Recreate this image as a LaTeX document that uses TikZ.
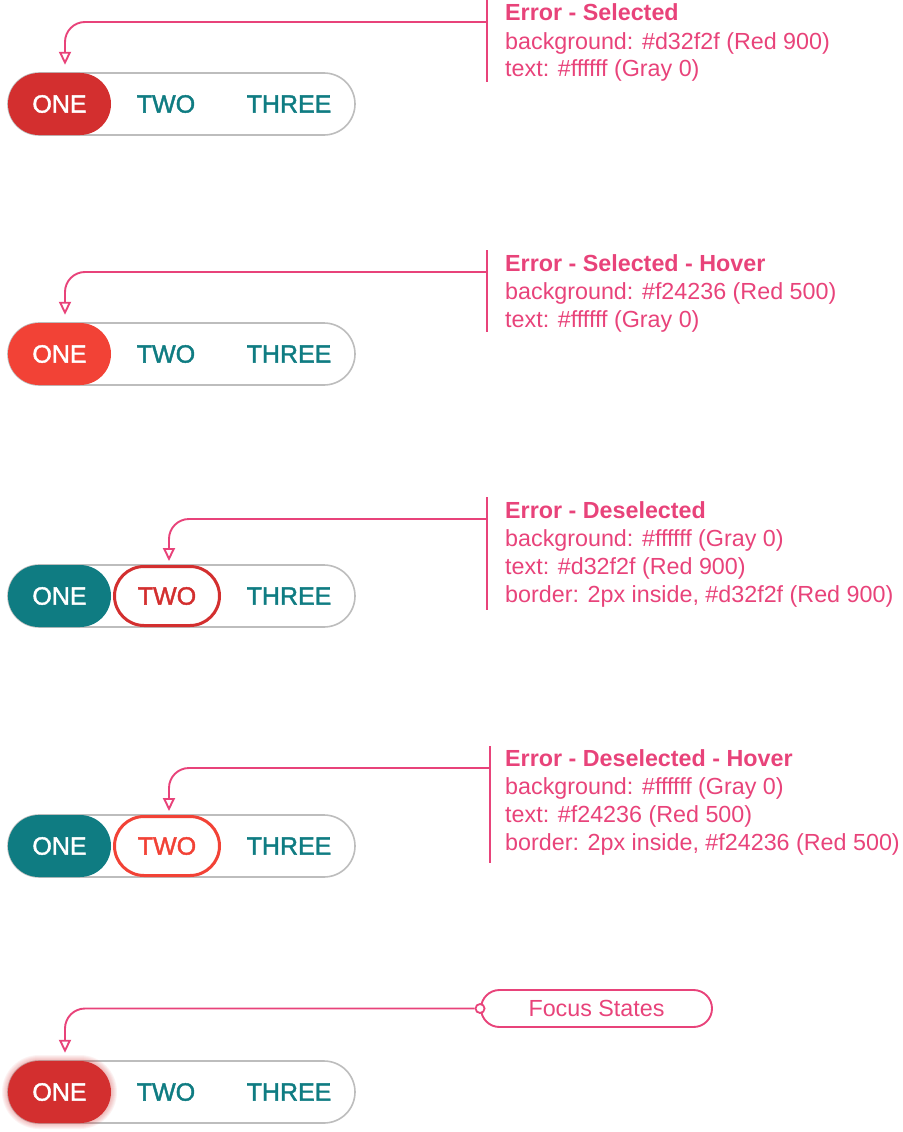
\documentclass[tikz,border=0pt]{standalone}
\usepackage{fontspec}
\setmainfont{Liberation Sans}
\newfontfamily\medfont[FakeBold=1.6]{Liberation Sans}
\usetikzlibrary{arrows.meta,calc}
\definecolor{pinkc}{HTML}{E8437A}
\definecolor{redA}{HTML}{D32F2F}
\definecolor{redB}{HTML}{F24236}
\definecolor{tealc}{HTML}{0F7C82}
\definecolor{grayb}{HTML}{BDBDBD}
\begin{document}
\begin{tikzpicture}[x=1pt,y=-1pt,
  toggle/.style={draw=grayb, line width=1.6pt, fill=white, rounded corners=31pt,
    minimum width=347pt, minimum height=62pt, inner sep=0pt},
  pill/.style={rounded corners=31pt, minimum width=103pt, minimum height=62pt,
    inner sep=0pt, text=white, font=\medfont\fontsize{25}{30}\selectfont},
  outpill/.style={rounded corners=29.5pt, minimum width=105pt, minimum height=59pt,
    inner sep=0pt, fill=white, line width=3pt, font=\medfont\fontsize{25}{30}\selectfont},
  lbl/.style={text=tealc, font=\medfont\fontsize{25}{30}\selectfont, inner sep=0pt},
  info/.style={text=pinkc, font=\fontsize{23.3}{28}\selectfont, inner sep=0pt, anchor=base west},
  bar/.style={draw=pinkc, line width=2pt},
  conn/.style={draw=pinkc, line width=1.9pt, rounded corners=20pt,
    -{Triangle[open, width=12pt, length=13pt]}},
  focus/.style={draw=pinkc, line width=1.9pt, rounded corners=18.5pt, minimum width=231pt,
    minimum height=37pt, inner sep=0pt, text=pinkc, font=\fontsize{23.3}{28}\selectfont},
  ring/.style={circle, draw=pinkc, fill=white, line width=1.8pt, minimum size=9pt, inner sep=0pt}
]
\useasboundingbox (0,0) rectangle (902,1132);

% ---------- Section 1: Error - Selected ----------
\node[toggle] (tg1) at (181.5,104) {};
\node[pill, fill=redA] (one1) at (59.5,104) {ONE};
\node[lbl] (two1) at (166,104) {TWO};
\node[lbl] (three1) at (289,104) {THREE};
\draw[bar] (487,0) -- (487,82);
\coordinate (b1) at (487,22);
\draw[conn] (b1) -| ($(one1.north)+(5.5,-8)$);
\node[info] (h1) at (505,21) {\bfseries Error - Selected};
\node[info] (l1a) at (505,49) {background: \#d32f2f (Red 900)};
\node[info] (l1b) at (505,77) {text: \#ffffff (Gray 0)};

% ---------- Section 2: Error - Selected - Hover ----------
\node[toggle] (tg2) at (181.5,354) {};
\node[pill, fill=redB] (one2) at (59.5,354) {ONE};
\node[lbl] (two2) at (166,354) {TWO};
\node[lbl] (three2) at (289,354) {THREE};
\draw[bar] (487,250) -- (487,332);
\coordinate (b2) at (487,272);
\draw[conn] (b2) -| ($(one2.north)+(5.5,-8)$);
\node[info] (h2) at (505,271) {\bfseries Error - Selected - Hover};
\node[info] (l2a) at (505,299) {background: \#f24236 (Red 500)};
\node[info] (l2b) at (505,327) {text: \#ffffff (Gray 0)};

% ---------- Section 3: Error - Deselected ----------
\node[toggle] (tg3) at (181.5,596) {};
\node[pill, fill=tealc] (one3) at (59.5,596) {ONE};
\node[outpill, draw=redA, text=redA] (two3) at (167,596) {TWO};
\node[lbl] (three3) at (289,596) {THREE};
\draw[bar] (487,497) -- (487,610);
\coordinate (b3) at (487,519);
\draw[conn] (b3) -| ($(two3.north)+(2,-4)$);
\node[info] (h3) at (505,518) {\bfseries Error - Deselected};
\node[info] (l3a) at (505,546) {background: \#ffffff (Gray 0)};
\node[info] (l3b) at (505,574) {text: \#d32f2f (Red 900)};
\node[info] (l3c) at (505,602) {border: 2px inside, \#d32f2f (Red 900)};

% ---------- Section 4: Error - Deselected - Hover ----------
\node[toggle] (tg4) at (181.5,846) {};
\node[pill, fill=tealc] (one4) at (59.5,846) {ONE};
\node[outpill, draw=redB, text=redB] (two4) at (167,846) {TWO};
\node[lbl] (three4) at (289,846) {THREE};
\draw[bar] (490,746) -- (490,863);
\coordinate (b4) at (490,768);
\draw[conn] (b4) -| ($(two4.north)+(2,-4)$);
\node[info] (h4) at (505,766) {\bfseries Error - Deselected - Hover};
\node[info] (l4a) at (505,794) {background: \#ffffff (Gray 0)};
\node[info] (l4b) at (505,822) {text: \#f24236 (Red 500)};
\node[info] (l4c) at (505,850) {border: 2px inside, \#f24236 (Red 500)};

% ---------- Section 5: Focus States ----------
\node[toggle] (tg5) at (181.5,1092) {};
\foreach \i in {1,...,6} {
  \fill[redA, fill opacity=0.06, rounded corners={31pt+\i pt}]
    ({8-\i},{1061-\i}) rectangle ({111+\i},{1123+\i});
}
\node[pill, fill=redA] (one5) at (59.5,1092) {ONE};
\node[lbl] (two5) at (166,1092) {TWO};
\node[lbl] (three5) at (289,1092) {THREE};
\node[focus] (fs) at (596.5,1008.5) {Focus States};
\node[ring] (c5) at (fs.west) {};
\draw[conn] (c5.west) -| ($(one5.north)+(5.5,-8)$);
\end{tikzpicture}
\end{document}
